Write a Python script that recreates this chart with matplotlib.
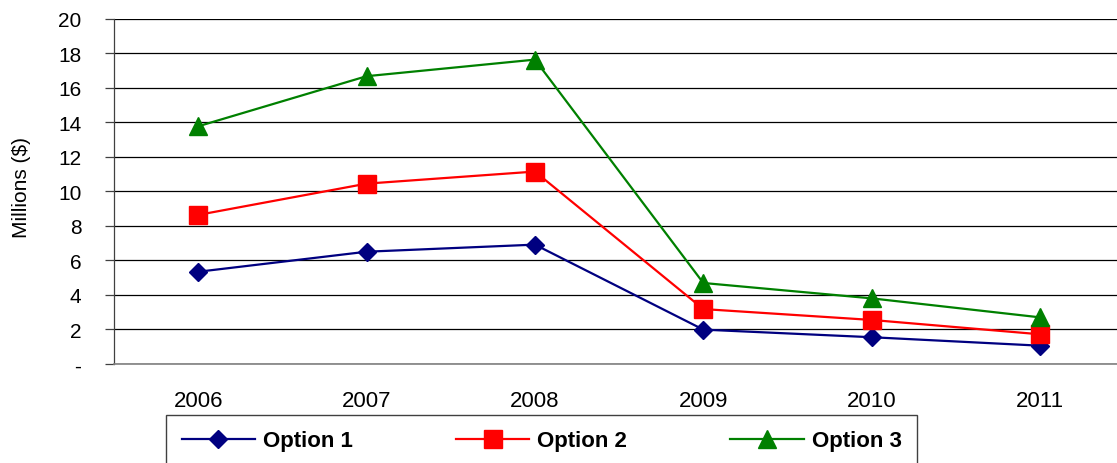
import matplotlib.pyplot as plt

years = ['2006', '2007', '2008', '2009', '2010', '2011']
option1 = [5.34, 6.50, 6.91, 1.99, 1.55, 1.06]
option2 = [8.63, 10.44, 11.14, 3.18, 2.55, 1.72]
option3 = [13.76, 16.66, 17.62, 4.69, 3.80, 2.70]
yticks = [0, 2, 4, 6, 8, 10, 12, 14, 16, 18, 20]
ytick_labels = ['-', '2', '4', '6', '8', '10', '12', '14', '16', '18', '20']

plt.rcParams['font.family'] = ['Liberation Sans', 'DejaVu Sans']

fig = plt.figure(figsize=(11.17, 4.64), dpi=100)
ax = fig.add_axes([114 / 1117, 1 - 365 / 464, 1 - 114 / 1117, (365 - 19.5) / 464])

x = range(len(years))
ax.plot(x, option1, color='#000080', marker='D', ms=9.5, lw=1.6, label='Option 1', zorder=3)
ax.plot(x, option2, color='#ff0000', marker='s', ms=13, lw=1.6, label='Option 2', zorder=3)
ax.plot(x, option3, color='#008000', marker='^', ms=13, lw=1.6, label='Option 3', zorder=3)

# gridlines
ax.set_ylim(0, 20)
ax.set_yticks(yticks)
ax.set_yticklabels(ytick_labels, fontsize=15)
ax.yaxis.grid(True, color='black', lw=0.9)
ax.set_axisbelow(True)
ax.tick_params(axis='y', length=6.5, width=0.9, pad=17, color='#404040')

ax.set_xlim(-0.5, 5.457)
ax.set_xticks(list(x))
ax.set_xticklabels(years, fontsize=16)
ax.tick_params(axis='x', length=0, pad=19)

for s in ['top', 'right']:
    ax.spines[s].set_visible(False)
ax.spines['left'].set_color('#404040')
ax.spines['left'].set_linewidth(0.9)
ax.spines['bottom'].set_color('#808080')
ax.spines['bottom'].set_linewidth(1.2)

fig.text(22 / 1117, 1 - 188 / 464, 'Millions ($)', rotation=90, ha='center', va='center', fontsize=15)

leg = fig.legend(loc='center', bbox_to_anchor=(166 / 1117, 1 - 467 / 464, 751 / 1117, 50 / 464),
                 mode='expand', ncol=3, prop={'weight': 'bold', 'size': 16},
                 handlelength=3.3, handletextpad=0.35, borderpad=0.7, borderaxespad=0,
                 fancybox=False, framealpha=1, edgecolor='#404040')
leg.get_frame().set_linewidth(1.0)

plt.savefig('out.png', dpi=100)
